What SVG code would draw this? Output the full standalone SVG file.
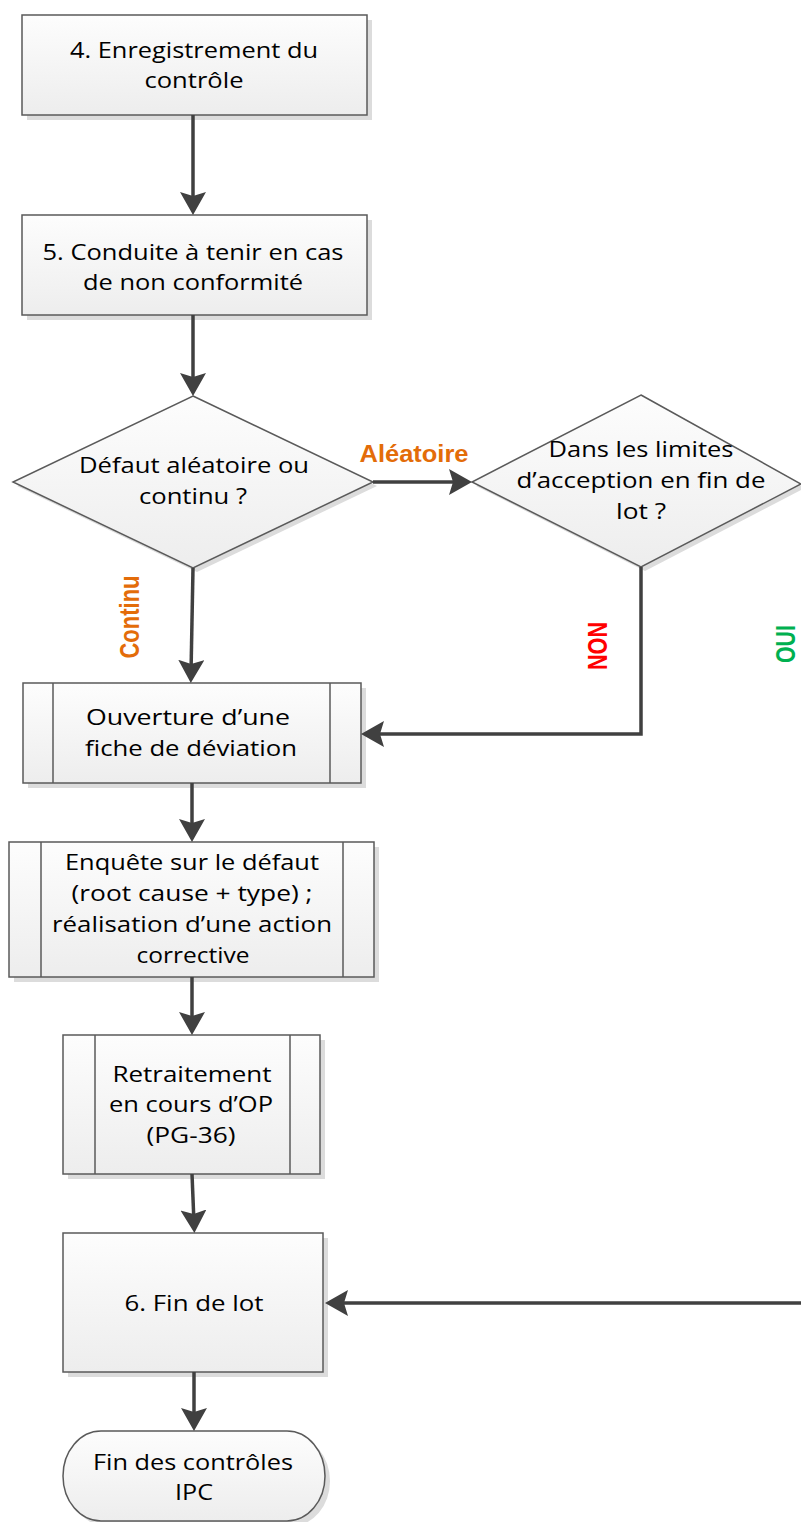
<svg xmlns="http://www.w3.org/2000/svg" width="801" height="1522" viewBox="0 0 801 1522">
<style>
.shape{fill:url(#g);stroke:#5a5a5a;stroke-width:1.5}
.sh{fill:#dcdcdc;stroke:none}
.inner{stroke:#5a5a5a;stroke-width:1.5;fill:none}
.t{font-family:"Open Sans","Liberation Sans",sans-serif;font-size:22px;fill:#000;text-anchor:middle}
.lab{font-family:"Liberation Sans",Arial,sans-serif;font-weight:bold;font-size:23px;text-anchor:middle}
.rot{font-size:27px}
.conn{fill:none;stroke:#404040;stroke-width:3.5;marker-end:url(#ah)}
</style>
<defs>
<linearGradient id="g" x1="0" y1="0" x2="0" y2="1">
<stop offset="0" stop-color="#fdfdfd"/>
<stop offset="1" stop-color="#ededed"/>
</linearGradient>
<marker id="ah" markerUnits="userSpaceOnUse" markerWidth="30" markerHeight="30" refX="13" refY="13" orient="auto">
<path d="M0,0 L23,13 L0,26 L4,13 Z" fill="#404040"/>
</marker>
</defs>
<rect width="801" height="1522" fill="#ffffff"/>

<g id="n1">
<rect class="sh" x="27" y="20" width="345" height="100"/>
<rect class="shape" x="22" y="15" width="345" height="100"/>
<text class="t" x="194" y="58" textLength="248" lengthAdjust="spacingAndGlyphs">4. Enregistrement du</text>
<text class="t" x="194" y="88" textLength="99" lengthAdjust="spacingAndGlyphs">contrôle</text>
</g>

<g id="n2">
<rect class="sh" x="27" y="220" width="345" height="100"/>
<rect class="shape" x="22" y="215" width="345" height="100"/>
<text class="t" x="193" y="260" textLength="301" lengthAdjust="spacingAndGlyphs">5. Conduite à tenir en cas</text>
<text class="t" x="193" y="290" textLength="220" lengthAdjust="spacingAndGlyphs">de non conformité</text>
</g>

<g id="d1">
<polygon class="sh" points="197,400 377,486 197,572 17,486"/>
<polygon class="shape" points="193,396 373,482 193,568 13,482"/>
<text class="t" x="194" y="473" textLength="230" lengthAdjust="spacingAndGlyphs">Défaut aléatoire ou</text>
<text class="t" x="193" y="504" textLength="108" lengthAdjust="spacingAndGlyphs">continu ?</text>
</g>

<g id="d2">
<polygon class="sh" points="645,399 805,488 645,571 476,486"/>
<polygon class="shape" points="641,395 801,484 641,567 472,482"/>
<text class="t" x="641" y="457" textLength="185" lengthAdjust="spacingAndGlyphs">Dans les limites</text>
<text class="t" x="641" y="488" textLength="249" lengthAdjust="spacingAndGlyphs">d’acception en fin de</text>
<text class="t" x="641" y="519" textLength="50" lengthAdjust="spacingAndGlyphs">lot ?</text>
</g>

<g id="n3">
<rect class="sh" x="28" y="688" width="338" height="100"/>
<rect class="shape" x="23" y="683" width="338" height="100"/>
<line class="inner" x1="53" y1="683" x2="53" y2="783"/>
<line class="inner" x1="330" y1="683" x2="330" y2="783"/>
<text class="t" x="188" y="725" textLength="204" lengthAdjust="spacingAndGlyphs">Ouverture d’une</text>
<text class="t" x="191" y="756" textLength="212" lengthAdjust="spacingAndGlyphs">fiche de déviation</text>
</g>

<g id="n4">
<rect class="sh" x="14" y="847" width="365" height="135"/>
<rect class="shape" x="9" y="842" width="365" height="135"/>
<line class="inner" x1="41" y1="842" x2="41" y2="977"/>
<line class="inner" x1="343" y1="842" x2="343" y2="977"/>
<text class="t" x="192" y="870" textLength="254" lengthAdjust="spacingAndGlyphs">Enquête sur le défaut</text>
<text class="t" x="192" y="901" textLength="241" lengthAdjust="spacingAndGlyphs">(root cause + type) ;</text>
<text class="t" x="192" y="932" textLength="280" lengthAdjust="spacingAndGlyphs">réalisation d’une action</text>
<text class="t" x="193" y="963" textLength="113" lengthAdjust="spacingAndGlyphs">corrective</text>
</g>

<g id="n5">
<rect class="sh" x="68" y="1040" width="257" height="139"/>
<rect class="shape" x="63" y="1035" width="257" height="139"/>
<line class="inner" x1="95" y1="1035" x2="95" y2="1174"/>
<line class="inner" x1="290" y1="1035" x2="290" y2="1174"/>
<text class="t" x="192" y="1082" textLength="159" lengthAdjust="spacingAndGlyphs">Retraitement</text>
<text class="t" x="191" y="1112" textLength="164" lengthAdjust="spacingAndGlyphs">en cours d’OP</text>
<text class="t" x="191" y="1143" textLength="89" lengthAdjust="spacingAndGlyphs">(PG-36)</text>
</g>

<g id="n6">
<rect class="sh" x="68" y="1238" width="260" height="139"/>
<rect class="shape" x="63" y="1233" width="260" height="139"/>
<text class="t" x="194" y="1311" textLength="139" lengthAdjust="spacingAndGlyphs">6. Fin de lot</text>
</g>

<g id="n7">
<rect class="sh" x="68" y="1436" width="262" height="90" rx="38" ry="45"/>
<rect class="shape" x="63" y="1431" width="262" height="90" rx="38" ry="45"/>
<text class="t" x="193" y="1470" textLength="200" lengthAdjust="spacingAndGlyphs">Fin des contrôles</text>
<text class="t" x="194" y="1500" textLength="38" lengthAdjust="spacingAndGlyphs">IPC</text>
</g>

<g id="connectors">
<path class="conn" d="M193,115 V205"/>
<path class="conn" d="M193,315 V386"/>
<path class="conn" d="M373,482 H462"/>
<path class="conn" d="M193,568 L191,673"/>
<path class="conn" d="M641,567 V734 H371"/>
<path class="conn" d="M192,783 V832"/>
<path class="conn" d="M192,977 V1025"/>
<path class="conn" d="M192,1174 L194,1223"/>
<path class="conn" d="M801,484 H840 V1303 H335"/>
<path class="conn" d="M194,1372 V1421"/>
<text class="lab" x="414" y="462" fill="#E36C09" textLength="109" lengthAdjust="spacingAndGlyphs">Aléatoire</text>
<text class="lab rot" x="139" y="617" fill="#E36C09" textLength="83" lengthAdjust="spacingAndGlyphs" transform="rotate(-90 139 617)">Continu</text>
<text class="lab rot" x="607" y="646" fill="#FF0000" textLength="48" lengthAdjust="spacingAndGlyphs" transform="rotate(-90 607 646)">NON</text>
<text class="lab rot" x="795" y="644" fill="#00B050" textLength="38" lengthAdjust="spacingAndGlyphs" transform="rotate(-90 795 644)">OUI</text>
</g>
</svg>
